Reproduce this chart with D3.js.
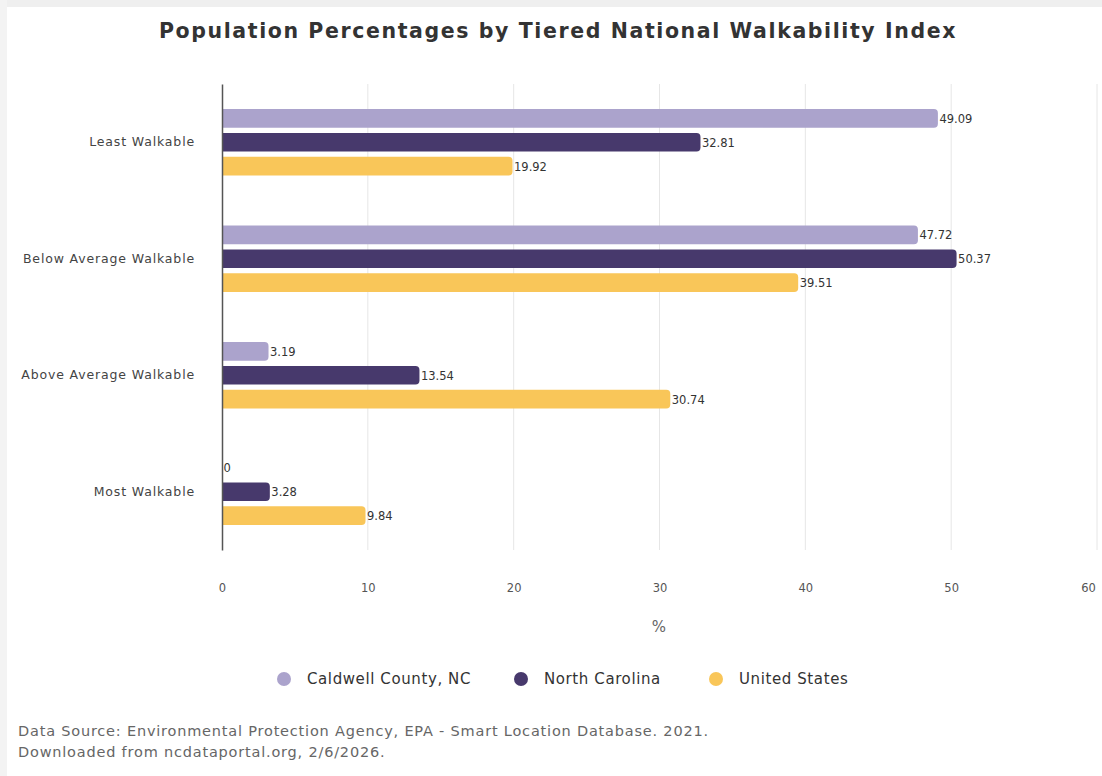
<!DOCTYPE html>
<html><head><meta charset="utf-8">
<script src="https://cdn.jsdelivr.net/npm/d3@7"></script>
<style>html,body{margin:0;padding:0;background:#fff;}svg{display:block;}</style>
</head><body>
<svg id="chart" width="1102" height="776"></svg>
<script>
const categories = ["Least Walkable", "Below Average Walkable", "Above Average Walkable", "Most Walkable"];
const seriesNames = ["Caldwell County, NC", "North Carolina", "United States"];
const caldwell = [49.09, 47.72, 3.19, 0];
const northCarolina = [32.81, 50.37, 13.54, 3.28];
const unitedStates = [19.92, 39.51, 30.74, 9.84];
const xTicks = [0, 10, 20, 30, 40, 50, 60];
const colors = ["#aba3cc", "#47396c", "#f9c659"];
const seriesValues = [caldwell, northCarolina, unitedStates];

const svg = d3.select("#chart");
const font = "'DejaVu Sans', Verdana, sans-serif";

// frame
svg.append("rect").attr("x",0).attr("y",0).attr("width",1102).attr("height",7).attr("fill","#efefef");
svg.append("rect").attr("x",0).attr("y",0).attr("width",7).attr("height",776).attr("fill","#f3f3f3");

const x = d3.scaleLinear().domain([0,60]).range([222,1097]);
const y = d3.scaleBand().domain(categories).range([84,550]);
const y1 = d3.scaleBand().domain(seriesNames).range([0,y.bandwidth()]).paddingInner(0.22).paddingOuter(1.05);

// gridlines
svg.append("g").selectAll("line").data(xTicks.filter(d=>d>0)).join("line")
  .attr("x1",d=>x(d)).attr("x2",d=>x(d)).attr("y1",84).attr("y2",550)
  .attr("stroke","#e6e6e6").attr("stroke-width",1);

// title
svg.append("text").attr("x",558).attr("y",38).attr("text-anchor","middle")
  .attr("font-family",font).attr("font-weight","bold").attr("font-size",20.5)
  .attr("letter-spacing",1.6)
  .attr("fill","#333").text("Population Percentages by Tiered National Walkability Index");

// bars
const rows = [];
categories.forEach((c,i)=>seriesNames.forEach((s,j)=>rows.push({c,s,j,v:seriesValues[j][i]})));
function barPath(d){
  const x0 = x(0), x1 = x(d.v), yy = y(d.c)+y1(d.s), h = y1.bandwidth();
  const r = Math.min(4, (x1-x0)/2, h/2);
  if (x1 - x0 <= 0) return "";
  return `M${x0},${yy}H${x1-r}Q${x1},${yy} ${x1},${yy+r}V${yy+h-r}Q${x1},${yy+h} ${x1-r},${yy+h}H${x0}Z`;
}
svg.append("g").selectAll("path").data(rows).join("path")
  .attr("d",barPath).attr("fill",d=>colors[d.j]);

// value labels
svg.append("g").selectAll("text").data(rows).join("text")
  .attr("x",d=>x(d.v)+1.5).attr("y",d=>y(d.c)+y1(d.s)+y1.bandwidth()/2+4.5)
  .attr("font-family",font).attr("font-size",11.5).attr("fill","#333")
  .text(d=>String(d.v));

// y axis
const yAxis = svg.append("g").attr("transform","translate(222,0)")
  .call(d3.axisLeft(y).tickSize(0).tickPadding(27));
yAxis.select(".domain").attr("stroke","#555").attr("stroke-width",1.5);
yAxis.selectAll("text").attr("font-family",font).attr("font-size",12.5)
  .attr("letter-spacing",0.85).attr("fill","#444");

// x axis
const xAxis = svg.append("g").attr("transform","translate(0,550)")
  .call(d3.axisBottom(x).tickValues(xTicks).tickSize(0).tickPadding(34));
xAxis.select(".domain").remove();
xAxis.selectAll("text").attr("font-family",font).attr("font-size",11.5).attr("fill","#555")
  .attr("dx",d=>d===60?-9:0);

svg.append("text").attr("x",659).attr("y",632).attr("text-anchor","middle")
  .attr("font-family",font).attr("font-size",15).attr("fill","#666").text("%");

// legend
const legX = [284, 521, 716];
const leg = svg.append("g").selectAll("g").data(seriesNames).join("g")
  .attr("transform",(d,i)=>`translate(${legX[i]},679)`);
leg.append("circle").attr("r",7).attr("fill",(d,i)=>colors[i]);
leg.append("text").attr("x",23).attr("y",5).attr("font-family",font).attr("font-size",15)
  .attr("letter-spacing",0.6).attr("fill","#333").text(d=>d);

// source
svg.append("text").attr("x",18).attr("y",736).attr("font-family",font).attr("font-size",14.5)
  .attr("letter-spacing",0.8)
  .attr("fill","#666").text("Data Source: Environmental Protection Agency, EPA - Smart Location Database. 2021.");
svg.append("text").attr("x",18).attr("y",757).attr("font-family",font).attr("font-size",14.5)
  .attr("letter-spacing",0.8)
  .attr("fill","#666").text("Downloaded from ncdataportal.org, 2/6/2026.");
</script>
</body></html>
